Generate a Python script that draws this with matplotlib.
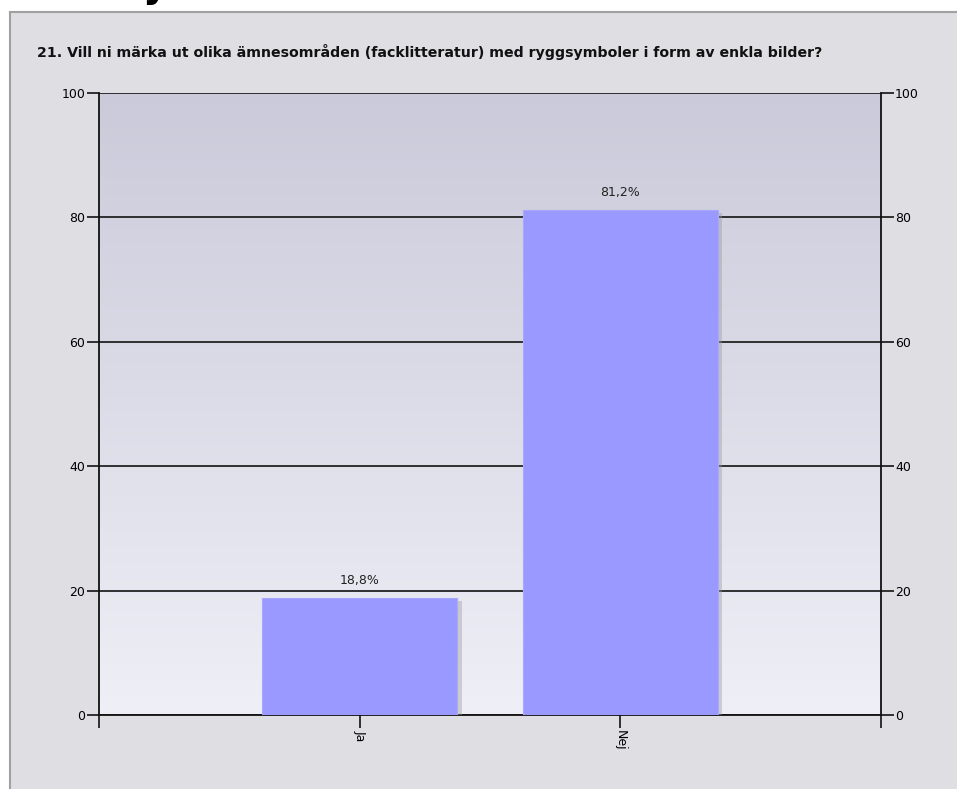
import numpy as np
import matplotlib
matplotlib.use("Agg")
import matplotlib.pyplot as plt
from matplotlib.patches import Rectangle
import matplotlib.patheffects as pe

# Data
categories = ["Ja", "Nej"]
values = [18.8, 81.2]
value_labels = ["18,8%", "81,2%"]
yticks = [0, 20, 40, 60, 80, 100]
title = "21. Vill ni märka ut olika ämnesområden (facklitteratur) med ryggsymboler i form av enkla bilder?"

W, H = 957, 789
fig = plt.figure(figsize=(W / 100, H / 100), dpi=100)
fig.patch.set_facecolor("white")

# grey panel behind the chart (runs off the right and bottom edges)
panel = Rectangle((10 / W, -0.05), 1.1, 1 - 12 / H + 0.05, transform=fig.transFigure,
                  facecolor="#dfdfe3", edgecolor="#a0a0a0", lw=1.5, zorder=-10)
fig.patches.append(panel)

# cut-off heading above the panel
fig.text(143 / W, 1 + 3 / H, "y", fontsize=28, fontweight="bold", color="black",
         va="baseline", ha="left")

fig.text(37 / W, 1 - 52 / H, title, fontsize=10.2, fontweight="bold",
         color="#111111", va="center", ha="left")

ax = fig.add_axes([99 / W, 1 - 715 / H, (881 - 99) / W, (715 - 93) / H])
ax.set_facecolor("none")

# vertical gradient background
grad = np.linspace(0, 1, 256).reshape(-1, 1, 1)
top = np.array([202, 202, 218]) / 255
bot = np.array([239, 239, 247]) / 255
img = bot + (top - bot) * grad
ax.imshow(img, extent=[-1, 2, 0, 100], origin="lower", aspect="auto", zorder=0)

x = np.arange(len(categories))
ax.set_xlim(-1, 2)
ax.set_ylim(0, 100)

for v in yticks:
    ax.axhline(v, color="#222222", lw=1.3, zorder=1)

bars = ax.bar(x, values, width=0.75, color="#9999ff", edgecolor="#a8a8ff", lw=0.8, zorder=3,
              path_effects=[pe.SimplePatchShadow(offset=(3, -2), shadow_rgbFace="#999999", alpha=0.4),
                            pe.Normal()])
ax.bar_label(bars, labels=value_labels, padding=8, fontsize=9, color="#222222")

ax.set_yticks(yticks)
ax.set_xticks([-1, 0, 1, 2])
ax.set_xticklabels(["", "Ja", "Nej", ""], rotation=-90, fontsize=9)
ax.tick_params(axis="y", direction="out", length=9, width=1.3, color="#222222",
               labelsize=9, left=True, right=True, labelleft=True, labelright=True, pad=1)
ax.tick_params(axis="x", direction="out", length=9, width=1.3, color="#222222", pad=2)

for s in ["left", "right", "bottom"]:
    ax.spines[s].set_color("#111111")
    ax.spines[s].set_linewidth(1.3)
ax.spines["top"].set_visible(False)

fig.savefig("out.png", dpi=100)
